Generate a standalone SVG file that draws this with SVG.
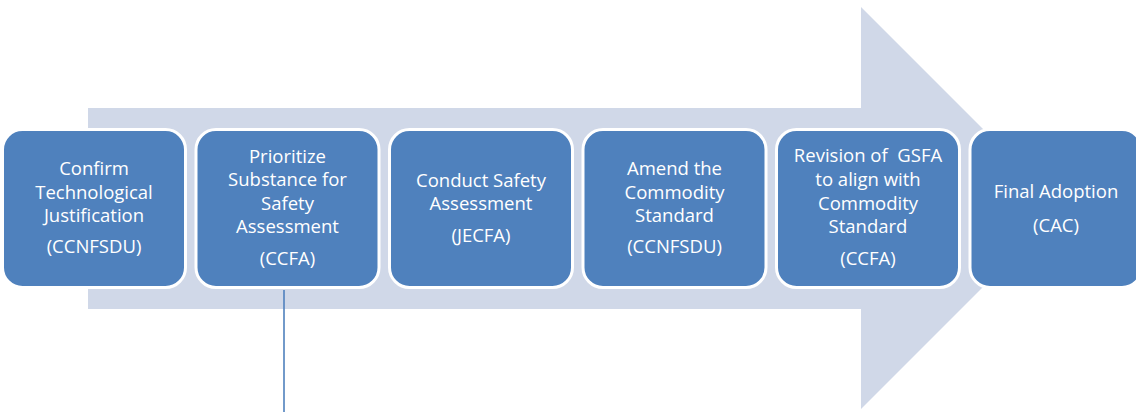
<svg xmlns="http://www.w3.org/2000/svg" width="1136" height="412" viewBox="0 0 1136 412">
<style>
.box{fill:#4F81BD;stroke:#FFFFFF;stroke-width:3}
.t{font-family:"Open Sans","Liberation Sans",sans-serif;font-size:18.5px;fill:#FFFFFF;text-anchor:middle}
</style>
<rect width="1136" height="412" fill="#FFFFFF"/>
<g id="bg-arrow">
<polygon points="88,108 861,108 861,7 1062,208 861,409 861,309 88,309" fill="#D0D8E8"/>
</g>
<g id="connectors">
<line x1="284" y1="290" x2="284" y2="412" stroke="#4F81BD" stroke-width="1.6"/>
</g>
<g id="n1">
<rect class="box" x="2.5" y="129.5" width="183" height="158" rx="20"/>
<text class="t" x="94" y="175">Confirm</text>
<text class="t" x="94" y="199">Technological</text>
<text class="t" x="94" y="222">Justification</text>
<text class="t" x="94" y="253">(CCNFSDU)</text>
</g>
<g id="n2">
<rect class="box" x="196" y="129.5" width="183" height="158" rx="20"/>
<text class="t" x="287.5" y="163">Prioritize</text>
<text class="t" x="287.5" y="186">Substance for</text>
<text class="t" x="287.5" y="210">Safety</text>
<text class="t" x="287.5" y="233">Assessment</text>
<text class="t" x="287.5" y="265">(CCFA)</text>
</g>
<g id="n3">
<rect class="box" x="389.5" y="129.5" width="183" height="158" rx="20"/>
<text class="t" x="481" y="187">Conduct Safety</text>
<text class="t" x="481" y="210">Assessment</text>
<text class="t" x="481" y="242">(JECFA)</text>
</g>
<g id="n4">
<rect class="box" x="583" y="129.5" width="183" height="158" rx="20"/>
<text class="t" x="674.5" y="175">Amend the</text>
<text class="t" x="674.5" y="199">Commodity</text>
<text class="t" x="674.5" y="222">Standard</text>
<text class="t" x="674.5" y="253">(CCNFSDU)</text>
</g>
<g id="n5">
<rect class="box" x="776.5" y="129.5" width="183" height="158" rx="20"/>
<text class="t" x="868" y="162" xml:space="preserve">Revision of  GSFA</text>
<text class="t" x="868" y="186">to align with</text>
<text class="t" x="868" y="210">Commodity</text>
<text class="t" x="868" y="233">Standard</text>
<text class="t" x="868" y="265">(CCFA)</text>
</g>
<g id="n6">
<rect class="box" x="970" y="129.5" width="172" height="158" rx="20"/>
<text class="t" x="1056" y="198">Final Adoption</text>
<text class="t" x="1056" y="232">(CAC)</text>
</g>
</svg>
